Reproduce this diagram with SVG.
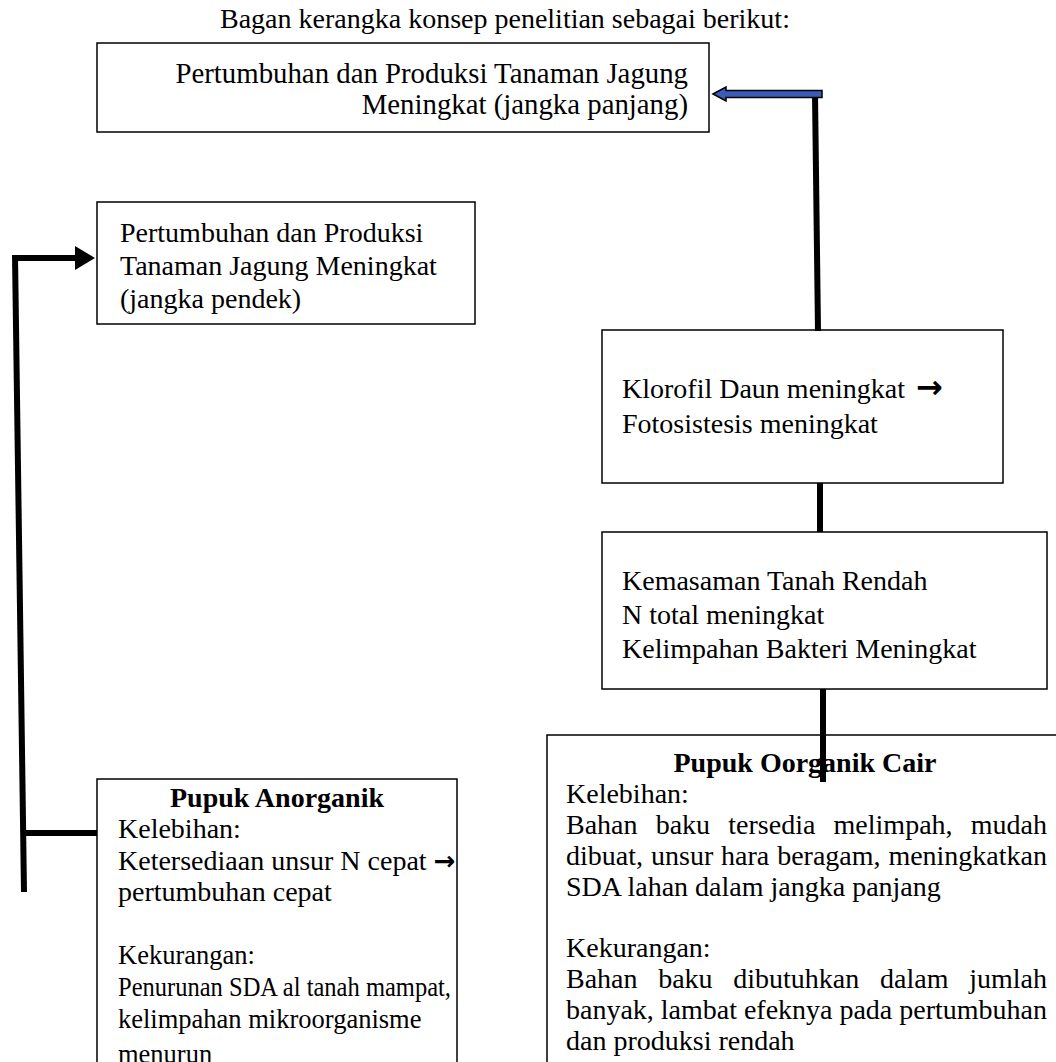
<svg xmlns="http://www.w3.org/2000/svg" width="1056" height="1062" viewBox="0 0 1056 1062">
<style>
text{font-family:"Liberation Serif","Times New Roman",serif;font-size:28px;fill:#000}
.b{font-weight:bold}
.s{font-size:26.5px}
.ar{font-family:"DejaVu Sans",sans-serif;font-weight:bold;font-size:26px}
.box{fill:#fff;stroke:#000;stroke-width:1.5}
.thick{stroke:#000;stroke-width:6;fill:none}
</style>
<rect width="1056" height="1062" fill="#fff"/>
<text x="220" y="28">Bagan kerangka konsep penelitian sebagai berikut:</text>

<g id="n-top">
<rect class="box" x="97" y="43" width="612" height="89"/>
<text x="688" y="83" text-anchor="end" style="font-size:28.8px">Pertumbuhan dan Produksi Tanaman Jagung</text>
<text x="688" y="114" text-anchor="end" style="font-size:28.8px">Meningkat (jangka panjang)</text>
</g>

<g id="n-short">
<rect class="box" x="97" y="202" width="378" height="122"/>
<text x="120" y="242">Pertumbuhan dan Produksi</text>
<text x="120" y="275">Tanaman Jagung Meningkat</text>
<text x="120" y="308">(jangka pendek)</text>
</g>

<g id="n-klorofil">
<rect class="box" x="602" y="330" width="401" height="153"/>
<text x="622" y="398">Klorofil Daun meningkat <tspan class="ar" dx="4" style="font-size:32px">→</tspan></text>
<text x="622" y="433">Fotosistesis meningkat</text>
</g>

<g id="n-tanah">
<rect class="box" x="602" y="532" width="445" height="157"/>
<text x="622" y="590">Kemasaman Tanah Rendah</text>
<text x="622" y="624">N total meningkat</text>
<text x="622" y="658">Kelimpahan Bakteri Meningkat</text>
</g>

<g id="n-anorganik">
<rect class="box" x="97" y="779" width="360" height="300"/>
<text class="b" x="277" y="807" text-anchor="middle">Pupuk Anorganik</text>
<text x="118" y="838">Kelebihan:</text>
<text x="118" y="870">Ketersediaan unsur N cepat <tspan class="ar">→</tspan></text>
<text x="118" y="901">pertumbuhan cepat</text>
<text class="s" x="118" y="964">Kekurangan:</text>
<text class="s" x="118" y="996" textLength="333" lengthAdjust="spacingAndGlyphs">Penurunan SDA al tanah mampat,</text>
<text class="s" x="118" y="1028">kelimpahan mikroorganisme</text>
<text class="s" x="118" y="1063">menurun</text>
</g>

<g id="n-organik">
<rect class="box" x="547" y="735" width="520" height="340"/>
<text class="b" x="805" y="772" text-anchor="middle">Pupuk Oorganik Cair</text>
<text x="566" y="803">Kelebihan:</text>
<text y="834"><tspan x="566">Bahan</tspan><tspan x="655.7">baku</tspan><tspan x="728.3">tersedia</tspan><tspan x="833.6">melimpah,</tspan><tspan x="1047" text-anchor="end">mudah</tspan></text>
<text y="865"><tspan x="566">dibuat,</tspan><tspan x="651">unsur</tspan><tspan x="721.1">hara</tspan><tspan x="777.2">beragam,</tspan><tspan x="1047" text-anchor="end">meningkatkan</tspan></text>
<text x="566" y="896">SDA lahan dalam jangka panjang</text>
<text x="566" y="957">Kekurangan:</text>
<text y="988"><tspan x="566">Bahan</tspan><tspan x="658.2">baku</tspan><tspan x="733.3">dibutuhkan</tspan><tspan x="880">dalam</tspan><tspan x="1047" text-anchor="end">jumlah</tspan></text>
<text y="1019"><tspan x="566">banyak,</tspan><tspan x="660.8">lambat</tspan><tspan x="743.9">efeknya</tspan><tspan x="839.4">pada</tspan><tspan x="1047" text-anchor="end">pertumbuhan</tspan></text>
<text x="566" y="1050">dan produksi rendah</text>
</g>

<g id="connectors">
<line class="thick" x1="815" y1="94" x2="818" y2="331"/>
<polygon points="713,94 726,87 726,90.5 822,90.5 822,97.5 726,97.5 726,101" fill="#3a5cb8" stroke="#000" stroke-width="1.5" stroke-linejoin="miter"/>
<line class="thick" x1="820" y1="483" x2="820" y2="532"/>
<line class="thick" x1="823" y1="689" x2="823" y2="782"/>
<line class="thick" x1="15" y1="255" x2="24" y2="892"/>
<line class="thick" x1="13" y1="258" x2="78" y2="258"/>
<polygon points="95,258 75,246 75,270" fill="#000"/>
<line class="thick" x1="21" y1="833" x2="97" y2="833"/>
</g>
</svg>
